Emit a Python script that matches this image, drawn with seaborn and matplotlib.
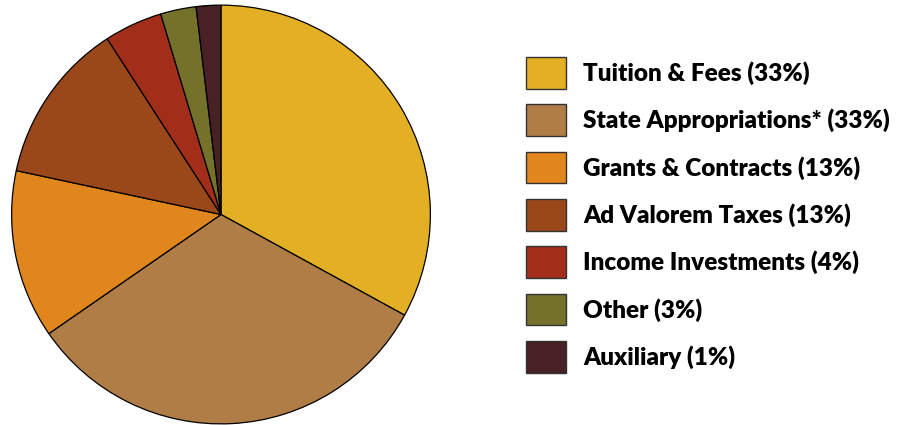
#Revenue sources pie chart
import matplotlib
matplotlib.use('Agg')
import matplotlib.pyplot as plt
import seaborn as sns

#data
categories = ['Tuition & Fees (33%)', 'State Appropriations* (33%)', 'Grants & Contracts (13%)',
              'Ad Valorem Taxes (13%)', 'Income Investments (4%)', 'Other (3%)', 'Auxiliary (1%)']
shares = [33.0, 32.4, 13.0, 12.5, 4.5, 2.75, 1.9]
colors = ['#E3B025', '#AF7D45', '#E0861C', '#9A4719', '#A22E1A', '#74712A', '#472124']

sns.set_theme(style='white')
plt.rcParams['font.family'] = ['Lato', 'DejaVu Sans']
plt.rcParams['text.color'] = 'black'

fig = plt.figure(figsize=(9.02, 4.25), dpi=100)
ax = fig.add_axes([11/902, 0.5/425, 420/902, 420/425])

wedges, _ = ax.pie(shares, colors=sns.color_palette(colors), startangle=90, counterclock=False,
                   wedgeprops=dict(edgecolor='black', linewidth=0.9))
ax.set_xlim(-1.003, 1.003)
ax.set_ylim(-1.003, 1.003)
ax.set_aspect('equal')
ax.axis('off')

#legend on the right
fs = 17.5
px = fs * 100 / 72
leg = fig.legend(wedges, categories, loc='upper left', bbox_to_anchor=(526/902, 1 - 57/425),
                 frameon=False, prop=dict(weight='heavy', size=fs),
                 handlelength=40/px, handleheight=32/px + 0.31, labelspacing=15.7/px,
                 handletextpad=17/px, borderaxespad=0, borderpad=0)
for h in leg.legend_handles:
    h.set_edgecolor('#333333')
    h.set_linewidth(1.0)

fig.savefig('out.png', dpi=100)
